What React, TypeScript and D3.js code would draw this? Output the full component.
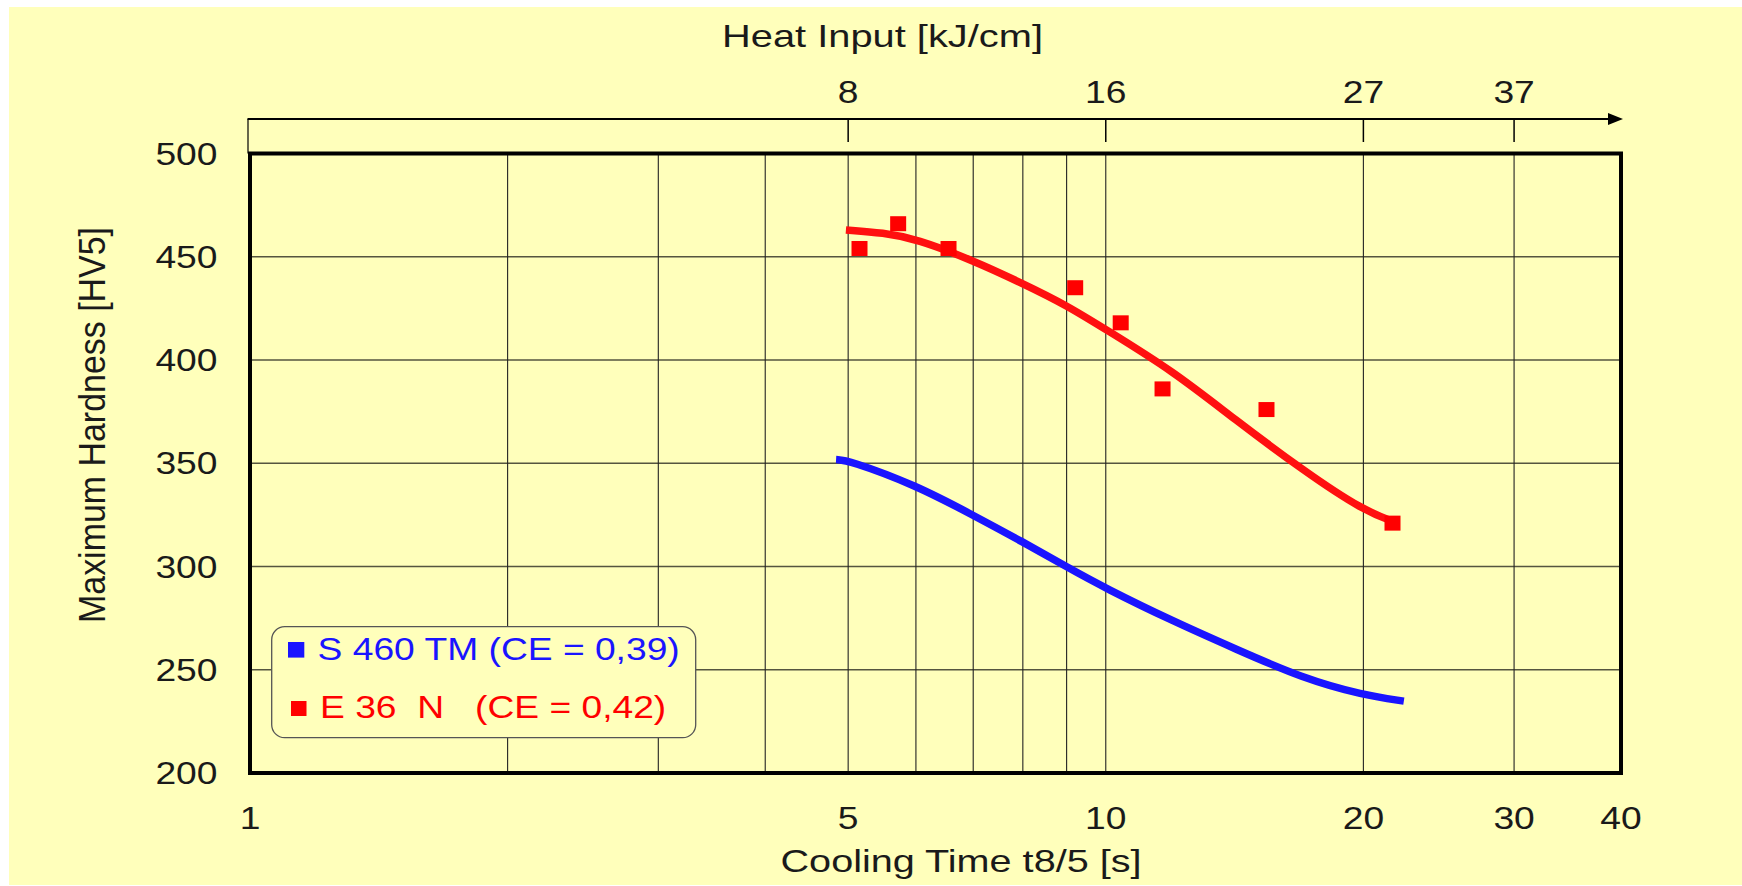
import React from "react";
import * as d3 from "d3";

// ---- data ----
const coolingTickValues = [1, 5, 10, 20, 30, 40];
const verticalGridValues = [2, 3, 4, 5, 6, 7, 8, 9, 10, 20, 30];
const hardnessTicks = [200, 250, 300, 350, 400, 450, 500];
const heatInputLabels = ["8", "16", "27", "37"];
const heatInputAtCooling = [5, 10, 20, 30];

// S 460 TM fitted curve (cooling time s, hardness HV5)
const blueCurveT = [4.84, 5, 6, 7, 8, 9, 10, 12, 14.14, 17, 20, 22.3];
const blueCurveH = [351.8, 351.5, 339.4, 324.8, 311.9, 299.8, 289.4, 273.4, 260.3, 245.8, 237.7, 234.8];

// E 36 N fitted curve
const redCurveT = [4.97, 5.5, 6, 7, 8, 9, 10, 12, 14.14, 17, 20, 22];
const redCurveH = [463, 461.6, 458.7, 448.2, 437, 426.5, 414.8, 394.5, 371.3, 346.6, 327, 320.8];

// E 36 N measured points
const redPointsT = [5.155, 5.72, 6.55, 9.21, 10.41, 11.65, 15.41, 21.63];
const redPointsH = [454, 466, 454, 435, 418, 386, 376, 321];

const legendLabels = ["S 460 TM (CE = 0,39)", "E 36  N   (CE = 0,42)"];

const BLUE = "#1a14ff";
const RED = "#ff0000";
const RED_LINE = "#ff1010";
const BG = "#ffffbb";
const INK = "#1a1a1a";
const FONT = "'Liberation Sans', Arial, Helvetica, sans-serif";

type TProps = {
  x: number;
  y: number;
  anchor?: "start" | "middle" | "end";
  len?: number;
  fill?: string;
  size?: number;
  rotate?: boolean;
  children: React.ReactNode;
};

function Txt({ x, y, anchor = "start", len, fill = INK, size = 31, rotate = false, children }: TProps) {
  const transform = rotate
    ? `translate(${x},${y}) rotate(-90) scale(1,1.2)`
    : `translate(${x},${y}) scale(1.2,1)`;
  return (
    <text
      transform={transform}
      textAnchor={anchor}
      fontFamily={FONT}
      fontSize={size}
      fill={fill}
      style={{ whiteSpace: "pre" }}
      {...(len ? { textLength: len, lengthAdjust: "spacingAndGlyphs" } : {})}
    >
      {children}
    </text>
  );
}

export default function App() {
  const left = 250, right = 1621, top = 153.5, bottom = 773;
  const x = d3.scaleLog().domain([1, 40]).range([left, right]);
  const y = d3.scaleLinear().domain([200, 500]).range([bottom, top]);

  const line = d3
    .line<[number, number]>()
    .x((d) => x(d[0]))
    .y((d) => y(d[1]))
    .curve(d3.curveBasis);

  const blueData: [number, number][] = blueCurveT.map((t, i) => [t, blueCurveH[i]]);
  const redData: [number, number][] = redCurveT.map((t, i) => [t, redCurveH[i]]);

  const axisY = 119;

  return (
    <svg
      width={1742}
      height={886}
      style={{ position: "absolute", left: 0, top: 0 }}
      xmlns="http://www.w3.org/2000/svg"
    >
      <rect x={0} y={0} width={1742} height={886} fill="#ffffff" />
      <rect x={9} y={7} width={1733} height={878} fill={BG} />

      {/* horizontal grid */}
      {hardnessTicks.slice(1, -1).map((h) => (
        <line key={"h" + h} x1={left} x2={right} y1={y(h)} y2={y(h)} stroke="#55553f" strokeWidth={1.6} />
      ))}
      {/* vertical grid */}
      {verticalGridValues.map((t) => (
        <line key={"v" + t} x1={x(t)} x2={x(t)} y1={top} y2={bottom} stroke="#222" strokeWidth={1.1} />
      ))}

      {/* legend box */}
      <rect x={271.7} y={626.7} width={424} height={111} rx={13} ry={13} fill={BG} stroke="#555" strokeWidth={1.3} />
      <rect x={288} y={642} width={16.3} height={15.6} fill={BLUE} />
      <rect x={291} y={701} width={15.5} height={15} fill={RED} />
      <Txt x={317.6} y={660} fill={BLUE}>{legendLabels[0]}</Txt>
      <Txt x={320} y={718.3} fill={RED}>{legendLabels[1]}</Txt>

      {/* curves */}
      <path d={line(blueData) || ""} fill="none" stroke={BLUE} strokeWidth={7.5} strokeLinecap="butt" />
      <path d={line(redData) || ""} fill="none" stroke={RED_LINE} strokeWidth={7.5} strokeLinecap="butt" />

      {/* red points */}
      {redPointsT.map((t, i) => (
        <rect key={"p" + i} x={x(t) - 8} y={y(redPointsH[i]) - 7.5} width={16} height={15} fill={RED} />
      ))}

      {/* plot border */}
      <rect x={left} y={top} width={right - left} height={bottom - top} fill="none" stroke="#000" strokeWidth={4} />

      {/* top axis */}
      <line x1={left - 2} x2={left - 2} y1={axisY} y2={top} stroke="#000" strokeWidth={1.2} />
      <line x1={left - 2.5} x2={right - 12} y1={axisY} y2={axisY} stroke="#000" strokeWidth={2} />
      <polygon points={`${right - 13},${axisY - 6} ${right + 2},${axisY} ${right - 13},${axisY + 6}`} fill="#000" />
      {heatInputAtCooling.map((t, i) => (
        <g key={"ht" + i}>
          <line x1={x(t)} x2={x(t)} y1={axisY} y2={142} stroke="#000" strokeWidth={1.5} />
          <Txt x={x(t)} y={103} anchor="middle">{heatInputLabels[i]}</Txt>
        </g>
      ))}
      <Txt x={722} y={47} len={321 / 1.2}>Heat Input [kJ/cm]</Txt>

      {/* y axis labels */}
      {hardnessTicks.map((h) => (
        <Txt key={"yl" + h} x={217.5} y={y(h) + 11} anchor="end">{String(h)}</Txt>
      ))}
      <Txt x={105} y={623} rotate len={396}>Maximum Hardness [HV5]</Txt>

      {/* x axis labels */}
      {coolingTickValues.map((t) => (
        <Txt key={"xl" + t} x={x(t)} y={829} anchor="middle">{String(t)}</Txt>
      ))}
      <Txt x={780.5} y={872} len={361 / 1.2}>Cooling Time t8/5 [s]</Txt>
    </svg>
  );
}
